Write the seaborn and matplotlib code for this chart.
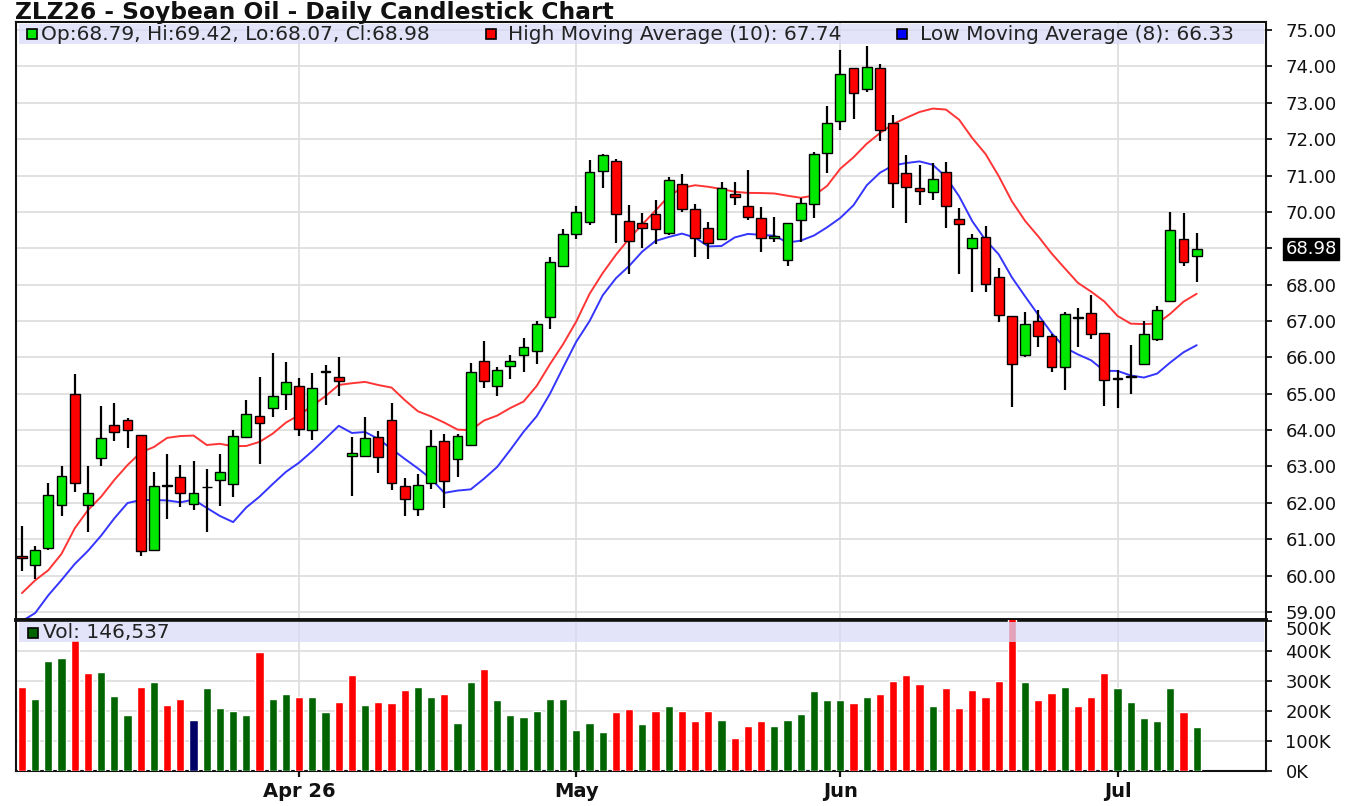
import numpy as np
import pandas as pd
import matplotlib
matplotlib.use("Agg")
import matplotlib.pyplot as plt
from matplotlib.patches import Rectangle
import seaborn as sns

sns.set_theme(style="white")
plt.rcParams['font.family'] = ['DejaVu Sans']

# ---------------- data ----------------
opens = [60.55, 60.30, 60.75, 61.93, 65.00, 61.93, 63.22, 64.15, 64.28, 63.86,
         60.70, 62.48, 62.72, 61.97, 62.43, 62.64, 62.52, 63.82, 64.39, 64.60,
         65.00, 65.22, 64.00, 65.60, 65.47, 63.30, 63.29, 63.81, 64.28, 62.47,
         61.83, 62.54, 63.69, 63.21, 63.60, 65.89, 65.21, 65.77, 66.06, 66.18,
         67.12, 68.50, 69.38, 69.73, 71.12, 71.39, 69.75, 69.70, 69.95, 69.41,
         70.77, 70.09, 69.55, 69.25, 70.50, 70.16, 69.84, 69.29, 68.68, 69.77,
         70.23, 71.62, 72.49, 73.95, 73.38, 73.95, 72.45, 71.06, 70.66, 70.56,
         71.09, 69.81, 69.00, 69.32, 68.22, 67.13, 66.07, 66.99, 66.60, 65.73,
         67.08, 67.21, 66.67, 65.40, 65.46, 65.82, 66.51, 67.54, 69.25, 68.79]
highs = [61.36, 60.82, 62.55, 63.00, 65.53, 63.00, 64.67, 64.75, 64.33, 63.86,
         62.85, 63.33, 63.05, 63.14, 62.93, 63.33, 64.00, 64.83, 65.45, 66.13,
         65.88, 65.42, 65.58, 65.80, 66.00, 63.80, 64.37, 63.97, 64.75, 62.69,
         62.80, 64.00, 63.88, 63.88, 65.85, 66.44, 65.73, 66.06, 66.52, 67.00,
         68.75, 69.52, 70.15, 71.43, 71.59, 71.45, 70.18, 69.97, 70.32, 70.95,
         71.05, 70.23, 69.73, 70.82, 70.82, 71.15, 70.14, 69.85, 69.70, 70.39,
         71.64, 72.90, 74.46, 73.95, 74.55, 74.07, 72.65, 71.55, 71.30, 71.33,
         71.37, 70.12, 69.38, 69.61, 68.46, 67.13, 67.26, 67.29, 66.65, 67.24,
         67.35, 67.71, 66.67, 65.64, 66.33, 67.01, 67.40, 70.00, 69.96, 69.42]
lows = [60.13, 59.90, 60.70, 61.65, 62.30, 61.20, 63.02, 63.70, 63.50, 60.55,
        60.70, 61.57, 61.88, 61.80, 61.20, 61.92, 62.15, 63.78, 63.07, 64.35,
        64.55, 63.83, 63.74, 64.68, 64.95, 62.20, 63.29, 62.82, 62.36, 61.64,
        61.64, 62.38, 61.87, 62.70, 63.56, 65.15, 64.95, 65.41, 65.60, 65.82,
        66.79, 68.50, 69.25, 69.64, 70.65, 69.15, 68.30, 69.00, 69.12, 69.36,
        70.00, 68.77, 68.70, 69.25, 70.18, 69.77, 68.91, 69.18, 68.50, 69.18,
        69.82, 71.07, 72.24, 72.56, 73.29, 71.94, 70.12, 69.70, 70.18, 70.34,
        69.57, 68.29, 67.80, 67.80, 66.98, 64.63, 66.00, 66.28, 65.59, 65.09,
        66.28, 66.51, 64.66, 64.61, 65.00, 65.82, 66.46, 67.54, 68.52, 68.07]
closes = [60.48, 60.70, 62.23, 62.75, 62.55, 62.27, 63.79, 63.96, 64.00, 60.67,
          62.47, 62.46, 62.28, 62.27, 62.45, 62.84, 63.83, 64.44, 64.20, 64.95,
          65.31, 64.04, 65.15, 65.63, 65.35, 63.36, 63.78, 63.25, 62.54, 62.12,
          62.50, 63.57, 62.60, 63.83, 65.60, 65.34, 65.64, 65.91, 66.29, 66.91,
          68.61, 69.38, 70.00, 71.09, 71.55, 69.94, 69.21, 69.57, 69.52, 70.89,
          70.09, 69.27, 69.15, 70.65, 70.41, 69.85, 69.29, 69.34, 69.70, 70.25,
          71.59, 72.45, 73.79, 73.27, 73.98, 72.24, 70.80, 70.69, 70.57, 70.91,
          70.16, 69.66, 69.27, 68.01, 67.16, 65.82, 66.92, 66.60, 65.73, 67.19,
          67.10, 66.63, 65.37, 65.42, 65.48, 66.65, 67.29, 69.51, 68.61, 68.98]
volumes_k = [281, 241, 367, 376, 436, 326, 331, 251, 187, 281,
             297, 221, 241, 171, 276, 211, 201, 187, 396, 241,
             256, 247, 247, 197, 231, 320, 221, 231, 227, 271,
             281, 247, 256, 161, 297, 341, 237, 187, 181, 201,
             241, 241, 136, 161, 131, 197, 207, 156, 201, 216,
             201, 166, 201, 171, 111, 151, 166, 151, 171, 191,
             266, 236, 236, 226, 246, 256, 300, 320, 290, 216,
             276, 211, 271, 246, 300, 510, 296, 236, 260, 280,
             216, 246, 326, 276, 231, 176, 166, 276, 196, 147]
vol_dir = ("d u u u d d u u u d "
           "u d d n u u u u d u "
           "u d u u d d u d d d "
           "u u d u u d u u u u "
           "u u u u u d d u d u "
           "d d d u d d d u u u "
           "u u u d u d d d d u "
           "d d d d d d u d d u "
           "d d d u u u u u d u").split()
# moving-average values for the first days (before a full window)
high_ma_lead = [59.52, 59.87, 60.15, 60.60, 61.30, 61.80, 62.17, 62.63, 63.04]
low_ma_lead = [58.75, 58.97, 59.46, 59.88, 60.32, 60.68, 61.10]

month_ticks = [21, 42, 62, 83]
month_labels = ["Apr 26", "May", "Jun", "Jul"]
price_ticks = list(range(59, 76))
vol_ticks = [0, 100, 200, 300, 400, 500]

title = "ZLZ26 - Soybean Oil - Daily Candlestick Chart"
legend_ohlc = "Op:68.79, Hi:69.42, Lo:68.07, Cl:68.98"
legend_hma = "High Moving Average (10): 67.74"
legend_lma = "Low Moving Average (8): 66.33"
legend_vol = "Vol: 146,537"
last_label = "68.98"
last_value = 68.98

# ---------------- frame ----------------
n = len(closes)
idx = np.arange(n)
df = pd.DataFrame({'idx': idx, 'open': opens, 'high': highs, 'low': lows,
                   'close': closes, 'vol': volumes_k, 'dir': vol_dir})
hma = df['high'].rolling(10).mean().to_numpy()
hma[:len(high_ma_lead)] = high_ma_lead
lma = df['low'].rolling(8).mean().to_numpy()
lma[:len(low_ma_lead)] = low_ma_lead
df['hma'] = hma
df['lma'] = lma

UP, DOWN = '#00e800', '#ff0000'
VOL_COLORS = {'u': '#006400', 'd': '#ff0000', 'n': '#000066'}
GRID = '#dedede'
BAND = '#dadaf8'

W, H = 1363, 806
fig = plt.figure(figsize=(W / 100, H / 100), dpi=100)
fig.patch.set_facecolor('white')
L, R = 16, 1266
T, M, B = 22, 620, 771
ax = fig.add_axes([L / W, 1 - M / H, (R - L) / W, (M - T) / H])
axv = fig.add_axes([L / W, 1 - B / H, (R - L) / W, (B - M) / H])

# ---------------- price panel ----------------
o = df['open'].to_numpy()
c = df['close'].to_numpy()
body_bottom = np.minimum(o, c)
body_h = np.maximum(np.abs(c - o), 0.02)
body_col = np.where(c >= o, UP, DOWN)

sns.lineplot(data=df, x='idx', y='hma', color='#ff3535', linewidth=1.4, ax=ax, zorder=2)
sns.lineplot(data=df, x='idx', y='lma', color='#3535ff', linewidth=1.4, ax=ax, zorder=2)
ax.vlines(df['idx'], df['low'], df['high'], color='black', linewidth=1.6, zorder=3)
ax.bar(df['idx'], body_h, bottom=body_bottom, width=0.74, color=body_col,
       edgecolor='black', linewidth=1.0, zorder=4)

ax.set_xlim(-0.45, 94.25)
ax.set_ylim(58.78, 75.22)
ax.set_xlabel('')
ax.set_ylabel('')
ax.yaxis.tick_right()
ax.set_yticks(price_ticks)
ax.set_yticklabels(["" if t == 69 else f"{t:.2f}" for t in price_ticks])
ax.set_xticks(month_ticks)
ax.tick_params(axis='x', bottom=False, labelbottom=False)
ax.tick_params(axis='y', right=True, left=False, direction='out', length=4,
               width=1.2, color='black', labelsize=13, pad=10, labelcolor='#111')
ax.grid(True, axis='both', color=GRID, linewidth=1.3)
ax.set_axisbelow(True)
for s in ax.spines.values():
    s.set_color('#111')
    s.set_linewidth(1.5)
ax.spines['bottom'].set_linewidth(2.6)

ax.add_patch(Rectangle((0.002, 0.963), 0.996, 0.033, transform=ax.transAxes,
                       fc=BAND, ec='none', alpha=0.75, zorder=6))
ax.annotate(last_label, xy=(1, last_value), xycoords=('axes fraction', 'data'),
            xytext=(14, 0), textcoords='offset points', ha='left', va='center',
            fontsize=13, color='white', annotation_clip=False,
            bbox=dict(boxstyle='square,pad=0.12', fc='black', ec='black'))

# ---------------- volume panel ----------------
sns.barplot(data=df, x='idx', y='vol', hue='dir', palette=VOL_COLORS,
            native_scale=True, width=0.62, dodge=False, errorbar=None,
            saturation=1, legend=False, ax=axv, zorder=3)
axv.set_xlim(-0.45, 94.25)
axv.set_ylim(0, 503)
axv.set_xlabel('')
axv.set_ylabel('')
axv.yaxis.tick_right()
axv.set_yticks(vol_ticks)
axv.set_yticklabels([f"{v}K" for v in vol_ticks])
axv.set_xticks(month_ticks)
axv.set_xticklabels(month_labels, fontweight='bold', fontsize=14, color='#111')
axv.tick_params(axis='x', bottom=True, direction='out', length=4, width=1.6,
                color='#111', pad=4)
axv.tick_params(axis='y', right=True, left=False, direction='out', length=4,
                width=1.2, color='black', labelsize=13, pad=10, labelcolor='#111')
axv.grid(True, axis='both', color=GRID, linewidth=1.3)
axv.set_axisbelow(True)
for s in axv.spines.values():
    s.set_color('#111')
    s.set_linewidth(1.5)
axv.spines['top'].set_linewidth(2.6)
# top volume label sits just below the panel separator
axv.get_yticklabels()[-1].set_va('top')
axv.add_patch(Rectangle((0.002, 0.854), 0.996, 0.133, transform=axv.transAxes,
                        fc=BAND, ec='none', alpha=0.75, zorder=6))

# ---------------- title & legends ----------------
def ftxt(x, y, s, **kw):
    fig.text(x / W, 1 - y / H, s, **kw)

def fsq(x, y, w, h, color):
    fig.add_artist(Rectangle((x / W, 1 - (y + h) / H), w / W, h / H,
                             transform=fig.transFigure, fc=color, ec='black', lw=1.2))

ftxt(15, 12, title, fontsize=16.8, fontweight='bold', va='center', color='#111')
fsq(27, 29, 10, 10, UP)
ftxt(41, 35, legend_ohlc, fontsize=14.5, va='center', color='#222')
fsq(486, 29, 10, 10, DOWN)
ftxt(508, 35, legend_hma, fontsize=14.5, va='center', color='#222')
fsq(897, 29, 10, 10, '#0000ff')
ftxt(920, 35, legend_lma, fontsize=14.5, va='center', color='#222')
fsq(28, 628, 10, 10, '#006400')
ftxt(43, 633, legend_vol, fontsize=14.5, va='center', color='#222')

fig.savefig("out.png", dpi=100, facecolor='white')
